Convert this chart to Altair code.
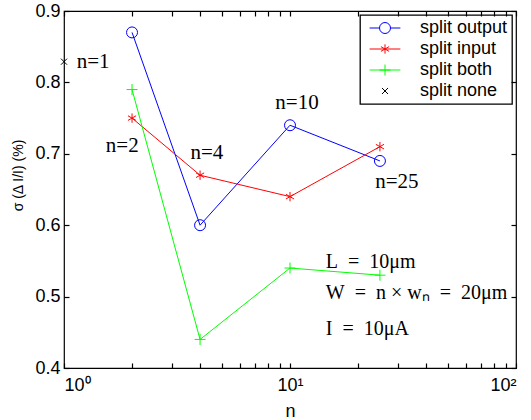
import altair as alt
import pandas as pd

# ---------------- data ----------------
n_values = [2, 4, 10, 25]
split_output = [0.87, 0.60, 0.74, 0.69]
split_input = [0.75, 0.67, 0.64, 0.71]
split_both = [0.79, 0.44, 0.54, 0.53]
split_none_n = [1]
split_none = [0.829]

series_names = ["split output", "split input", "split both", "split none"]
series_colors = ["#0000ff", "#ff0000", "#00ff00", "#000000"]

ann_labels = ["n=1", "n=2", "n=4", "n=10", "n=25"]
ann_n = [1.345, 1.81, 4.29, 10.74, 29.7]
ann_y = [0.829, 0.711, 0.701, 0.771, 0.660]

param_labels = ["L\u2002=\u200210\u03bcm", "W\u2002=\u2002n \u00d7 w\u2099\u2002=\u200220\u03bcm", "I\u2002=\u200210\u03bcA"]
param_n = [14.4, 14.4, 14.4]
param_y = [0.548, 0.505, 0.455]

x_major = [1, 10, 100]
x_minor = [1, 2, 3, 4, 5, 6, 7, 8, 9, 10, 20, 30, 40, 50, 60, 70, 80, 90, 100]
y_ticks = [0.4, 0.5, 0.6, 0.7, 0.8, 0.9]

# ---------------- tables ----------------
rows = []
for name, vals in [("split output", split_output), ("split input", split_input), ("split both", split_both)]:
    for n, v in zip(n_values, vals):
        rows.append({"series": name, "n": n, "v": v})
lines_df = pd.DataFrame(rows)
pts_df = pd.concat([lines_df, pd.DataFrame({"series": ["split none"] * len(split_none_n), "n": split_none_n, "v": split_none})])
ann_df = pd.DataFrame({"label": ann_labels, "n": ann_n, "v": ann_y})
par_df = pd.DataFrame({"label": param_labels, "n": param_n, "v": param_y})
leg_df = pd.DataFrame({"series": series_names, "n": [1] * 4, "v": [0.5] * 4})

W, H = 452, 357

CIRCLE = "M1,0A1,1,0,1,1,-1,0A1,1,0,1,1,1,0Z"
ASTER = "M0,-0.85L0,0.85M-0.74,-0.425L0.74,0.425M-0.74,0.425L0.74,-0.425"
PLUS = "M-1,0L1,0M0,-1L0,1"
XMARK = "M-0.55,-0.55L0.55,0.55M-0.55,0.55L0.55,-0.55"
point_shapes = [CIRCLE, ASTER, PLUS, XMARK]
legend_shapes = [
    "M-2.8,0L-1,0M1,0L2.8,0" + CIRCLE,
    "M-2.8,0L2.8,0" + ASTER,
    "M-2.8,0L2.8,0" + PLUS,
    XMARK,
]

xscale = alt.Scale(type="log", domain=[1, 100], nice=False)
yscale = alt.Scale(domain=[0.4, 0.9], nice=False, zero=False)
cscale = alt.Scale(domain=series_names, range=series_colors)

SANS = "Liberation Sans"
SERIF = "Liberation Serif"

x_label_axis = alt.Axis(orient="bottom", values=x_major, ticks=False, domain=False, grid=False,
                        labelExpr="datum.value == 1 ? '10\u2070' : datum.value == 10 ? '10\u00b9' : '10\u00b2'",
                        labelFont=SANS, labelFontSize=18, labelColor="black", labelPadding=8,
                        title="n", titleFont=SANS, titleFontSize=18, titleFontWeight="normal",
                        titleColor="black", titlePadding=8)
y_label_axis = alt.Axis(orient="left", values=y_ticks, format=".1f", ticks=False, domain=False, grid=False,
                        labelFont=SANS, labelFontSize=18, labelColor="black", labelPadding=4,
                        title="\u03c3 (\u0394 I/I) (%)", titleFont=SANS, titleFontSize=14,
                        titleFontWeight="normal", titleColor="black", titlePadding=9,
                        titleAlign="center", titleAngle=270, titleBaseline="bottom", titleY=164)

def tick_axis(orient, offset, values):
    return alt.Axis(orient=orient, offset=offset, values=values, labels=False, ticks=True, tickSize=5,
                    tickColor="black", tickWidth=1.2, domain=False, grid=False, title=None, zindex=1)

lines = alt.Chart(lines_df).mark_line(strokeWidth=1).encode(
    x=alt.X("n:Q", scale=xscale, axis=x_label_axis),
    y=alt.Y("v:Q", scale=yscale, axis=y_label_axis),
    color=alt.Color("series:N", scale=cscale, legend=None),
    detail="series:N",
)

points = alt.Chart(pts_df).mark_point(filled=False, size=121, strokeWidth=1, opacity=1).encode(
    x=alt.X("n:Q", scale=xscale, axis=tick_axis("top", -H, x_minor)),
    y=alt.Y("v:Q", scale=yscale, axis=tick_axis("right", -W, y_ticks)),
    color=alt.Color("series:N", scale=cscale, legend=None),
    shape=alt.Shape("series:N", scale=alt.Scale(domain=series_names, range=point_shapes), legend=None),
)

ann = alt.Chart(ann_df).mark_text(font=SERIF, fontSize=21, baseline="middle", align="center", color="black").encode(
    x=alt.X("n:Q", scale=xscale, axis=tick_axis("bottom", -H, x_minor)),
    y=alt.Y("v:Q", scale=yscale, axis=tick_axis("left", -W, y_ticks)),
    text="label:N",
)

params = alt.Chart(par_df).mark_text(font=SERIF, fontSize=20, baseline="middle", align="left", color="black").encode(
    x=alt.X("n:Q", scale=xscale, axis=None),
    y=alt.Y("v:Q", scale=yscale, axis=None),
    text="label:N",
)

leg_spec = dict(title=None, orient="top-right", offset=4, padding=4, rowPadding=3,
                symbolSize=121, symbolOffset=12, labelOffset=26, symbolStrokeWidth=1,
                labelFont=SANS, labelFontSize=18, labelColor="black",
                labelExpr="datum.label + '\u2002'", strokeColor="black", fillColor="white")

legend_layer = alt.Chart(leg_df).transform_filter("false").mark_point(filled=False, strokeWidth=1, opacity=1).encode(
    x=alt.X("n:Q", scale=xscale, axis=None),
    y=alt.Y("v:Q", scale=yscale, axis=None),
    color=alt.Color("series:N", scale=cscale, legend=alt.Legend(**leg_spec), sort=series_names),
    shape=alt.Shape("series:N", scale=alt.Scale(domain=series_names, range=legend_shapes),
                    legend=alt.Legend(**leg_spec), sort=series_names),
)

chart = alt.layer(lines, points, ann, params, legend_layer).resolve_axis(
    x="independent", y="independent"
).resolve_scale(color="independent", shape="independent").properties(
    width=W, height=H,
    padding={"left": 64, "top": 11, "right": 15, "bottom": 52},
    autosize=alt.AutoSizeParams(type="none"),
    background="white",
).configure_view(stroke="black", strokeWidth=1.2).configure_legend(strokeWidth=1.3)

chart.save("out.html", embed_options={"renderer": "svg", "actions": False})
